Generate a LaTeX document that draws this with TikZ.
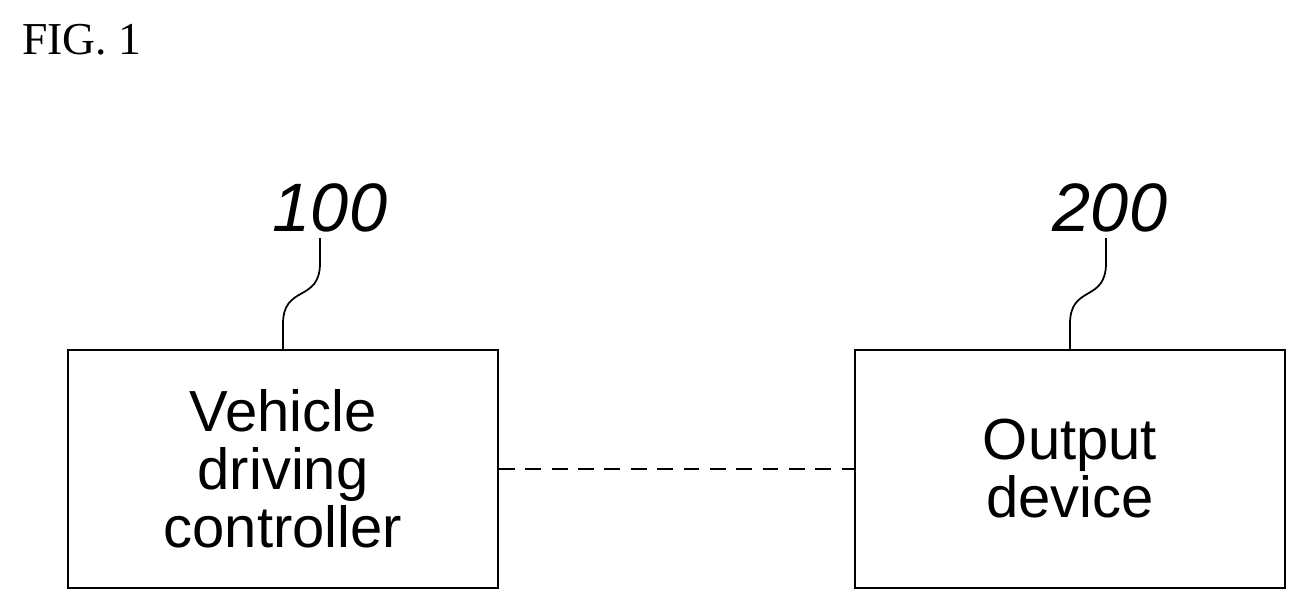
\documentclass[tikz,border=0pt]{standalone}
\usepackage{fontspec}
\setsansfont{Liberation Sans}
\setmainfont{Liberation Serif}
\usetikzlibrary{positioning,calc}
\begin{document}
\begin{tikzpicture}[
  x=0.02cm, y=-0.02cm,
  block/.style={rectangle,draw,line width=1.2pt,minimum width=8.6cm,minimum height=4.76cm,
    align=center,font=\sffamily\fontsize{33}{33}\selectfont},
  refnum/.style={font=\sffamily\itshape\fontsize{39}{44}\selectfont},
  leader/.style={line width=1pt}
  ]
  \useasboundingbox (0,0) rectangle (1308,612);
  \node[anchor=west,font=\fontsize{26}{30}\selectfont] (FIG) at (16,40) {FIG. 1};

  \node[block] (VDC) at (283,469) {Vehicle\\driving\\controller};
  \node[block] (OUT) at (1070,469) {Output\\device};

  \node[refnum] (N100) at (330,208) {100};
  \node[refnum] (N200) at (1110,208) {200};

  \draw[dashed,line width=1pt,dash pattern=on 9pt off 6pt] (VDC.east) -- (OUT.west);

  \coordinate (L1) at (320,238);
  \coordinate (L2) at (1106,238);
  \draw[leader] (VDC.north) -- ++(0,-25) .. controls +(0,-40) and +(0,40) .. ($(L1)+(0,25)$) -- (L1);
  \draw[leader] (OUT.north) -- ++(0,-25) .. controls +(0,-40) and +(0,40) .. ($(L2)+(0,25)$) -- (L2);
\end{tikzpicture}
\end{document}
